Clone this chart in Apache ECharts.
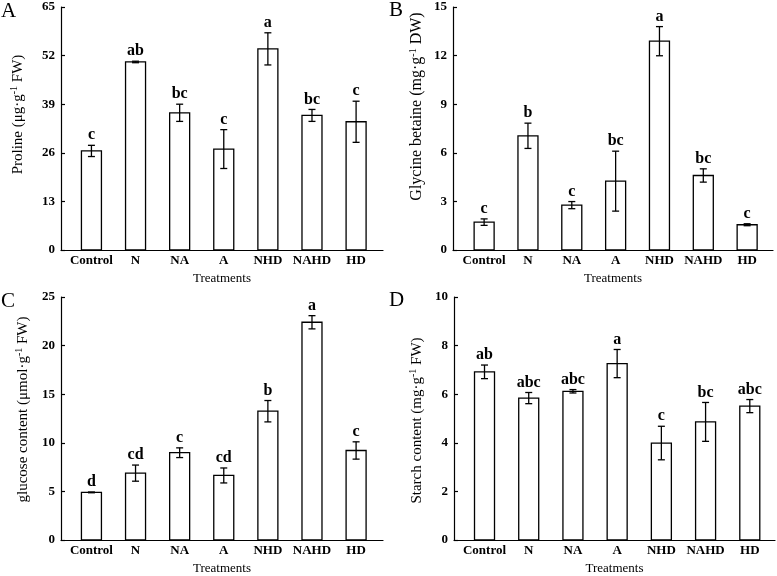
<!DOCTYPE html>
<html><head><meta charset="utf-8">
<script src="https://cdn.jsdelivr.net/npm/echarts@6/dist/echarts.min.js"></script>
<style>html,body{margin:0;padding:0;background:#fff}#c{width:777px;height:576px}</style>
</head><body><div id="c"></div>
<script>
const categories = ['Control', 'N', 'NA', 'A', 'NHD', 'NAHD', 'HD'];

const prolineMean = [26.5, 50.3, 36.7, 27.0, 53.8, 36.0, 34.3];
const prolineErr = [1.5, 0.2, 2.3, 5.2, 4.3, 1.6, 5.5];
const prolineLetters = ['c', 'ab', 'bc', 'c', 'a', 'bc', 'c'];
const prolineTicks = [0, 13, 26, 39, 52, 65];

const betaineMean = [1.72, 7.05, 2.77, 4.25, 12.89, 4.60, 1.56];
const betaineErr = [0.2, 0.78, 0.22, 1.85, 0.9, 0.41, 0.06];
const betaineLetters = ['c', 'b', 'c', 'bc', 'a', 'bc', 'c'];
const betaineTicks = [0, 3, 6, 9, 12, 15];

const glucoseMean = [4.9, 6.88, 8.98, 6.64, 13.25, 22.4, 9.21];
const glucoseErr = [0.04, 0.83, 0.5, 0.77, 1.1, 0.68, 0.89];
const glucoseLetters = ['d', 'cd', 'c', 'cd', 'b', 'a', 'c'];
const glucoseTicks = [0, 5, 10, 15, 20, 25];

const starchMean = [6.92, 5.84, 6.12, 7.26, 3.99, 4.86, 5.51];
const starchErr = [0.28, 0.23, 0.07, 0.58, 0.69, 0.8, 0.27];
const starchLetters = ['ab', 'abc', 'abc', 'a', 'c', 'bc', 'abc'];
const starchTicks = [0, 2, 4, 6, 8, 10];

const FONT = '"Liberation Serif", "Times New Roman", serif';
const BLACK = '#000';

const panels = [
  { tag: 'A', mean: prolineMean, err: prolineErr, letters: prolineLetters, ticks: prolineTicks,
    name: '{t|Proline (μg·g}{s|-1}{t| FW)}',
    grid: { left: 61, top: 7, width: 322, height: 243 }, xmin: -0.69, xmax: 6.61,
    nameGap: 34, shift: 14, titleSize: 15, tagPos: { left: 1, top: 1 } },
  { tag: 'B', mean: betaineMean, err: betaineErr, letters: betaineLetters, ticks: betaineTicks,
    name: '{t|Glycine betaine (mg·g}{s|-1}{t| DW)}',
    grid: { left: 453, top: 7, width: 320, height: 243 }, xmin: -0.71, xmax: 6.59,
    nameGap: 27, shift: 22, titleSize: 16, tagPos: { left: 389, top: 0 } },
  { tag: 'C', mean: glucoseMean, err: glucoseErr, letters: glucoseLetters, ticks: glucoseTicks,
    name: '{t|glucose content (μmol·g}{s|-1}{t| FW)}',
    grid: { left: 61, top: 297, width: 322, height: 243 }, xmin: -0.69, xmax: 6.61,
    nameGap: 29, shift: 9, titleSize: 15, tagPos: { left: 1, top: 291 } },
  { tag: 'D', mean: starchMean, err: starchErr, letters: starchLetters, ticks: starchTicks,
    name: '{t|Starch content (mg·g}{s|-1}{t| FW)}',
    grid: { left: 454, top: 297, width: 321, height: 243 }, xmin: -0.69, xmax: 6.57,
    nameGap: 28, shift: -2, titleSize: 15, tagPos: { left: 389, top: 290 } }
];

const lineStyle = { color: BLACK, width: 1.2 };
const idx = categories.map((_, i) => i);

const option = {
  backgroundColor: '#fff',
  animation: false,
  title: panels.map(p => ({
    text: p.tag, left: p.tagPos.left, top: p.tagPos.top, padding: 0,
    textStyle: { fontFamily: FONT, fontSize: 21, fontWeight: 'normal', color: BLACK }
  })),
  grid: panels.map(p => Object.assign({ containLabel: false }, p.grid)),
  xAxis: panels.map((p, k) => ({
    type: 'value', gridIndex: k, min: p.xmin, max: p.xmax,
    axisLine: { show: true, onZero: false, lineStyle },
    axisTick: { show: false },
    splitLine: { show: false },
    axisLabel: {
      customValues: idx,
      formatter: v => categories[Math.round(v)],
      color: BLACK, fontFamily: FONT, fontSize: 13, fontWeight: 'bold', margin: 4
    },
    name: 'Treatments', nameLocation: 'middle', nameGap: 22,
    nameTextStyle: { fontFamily: FONT, fontSize: 13, color: BLACK }
  })),
  yAxis: panels.map((p, k) => ({
    type: 'value', gridIndex: k, min: p.ticks[0], max: p.ticks[p.ticks.length - 1],
    interval: p.ticks[1] - p.ticks[0],
    axisLine: { show: true, onZero: false, lineStyle },
    axisTick: { show: true, inside: true, length: 4, lineStyle },
    splitLine: { show: false },
    axisLabel: { color: BLACK, fontFamily: FONT, fontSize: 13, fontWeight: 'bold', margin: 6 },
    name: p.name, nameLocation: 'middle', nameGap: p.nameGap,
    nameTextStyle: {
      fontFamily: FONT, fontSize: p.titleSize, color: BLACK,
      padding: p.shift >= 0 ? [0, 0, 0, 2 * p.shift] : [0, -2 * p.shift, 0, 0],
      rich: {
        t: { fontFamily: FONT, fontSize: p.titleSize, color: BLACK, lineHeight: 18 },
        s: { fontFamily: FONT, fontSize: 10, color: BLACK, lineHeight: 11, verticalAlign: 'top' }
      }
    }
  })),
  series: panels.map((p, k) => ({
    type: 'custom', xAxisIndex: k, yAxisIndex: k, clip: false,
    encode: { x: 0, y: 1 },
    data: p.mean.map((m, i) => [i, m, p.err[i]]),
    renderItem: (params, api) => {
      const i = api.value(0), m = api.value(1), e = api.value(2);
      const top = api.coord([i, m]);
      const base = api.coord([i, 0]);
      const hi = api.coord([i, m + e]);
      const lo = api.coord([i, m - e]);
      const bw = 20, cap = 3.5;
      const ls = { stroke: BLACK, lineWidth: 1.3 };
      return {
        type: 'group',
        children: [
          { type: 'rect', shape: { x: top[0] - bw / 2, y: top[1], width: bw, height: base[1] - top[1] },
            style: { fill: '#fff', stroke: BLACK, lineWidth: 1.3 } },
          { type: 'line', shape: { x1: hi[0], y1: hi[1], x2: lo[0], y2: lo[1] }, style: ls },
          { type: 'line', shape: { x1: hi[0] - cap, y1: hi[1], x2: hi[0] + cap, y2: hi[1] }, style: ls },
          { type: 'line', shape: { x1: lo[0] - cap, y1: lo[1], x2: lo[0] + cap, y2: lo[1] }, style: ls },
          { type: 'text', x: hi[0], y: hi[1] - 2,
            style: { text: p.letters[params.dataIndex], fontFamily: FONT, fontSize: 16, fontWeight: 'bold',
                     fill: BLACK, align: 'center', verticalAlign: 'bottom' } }
        ]
      };
    }
  }))
};

const chart = echarts.init(document.getElementById('c'), null, { renderer: 'canvas' });
chart.setOption(option);
</script>
</body></html>
